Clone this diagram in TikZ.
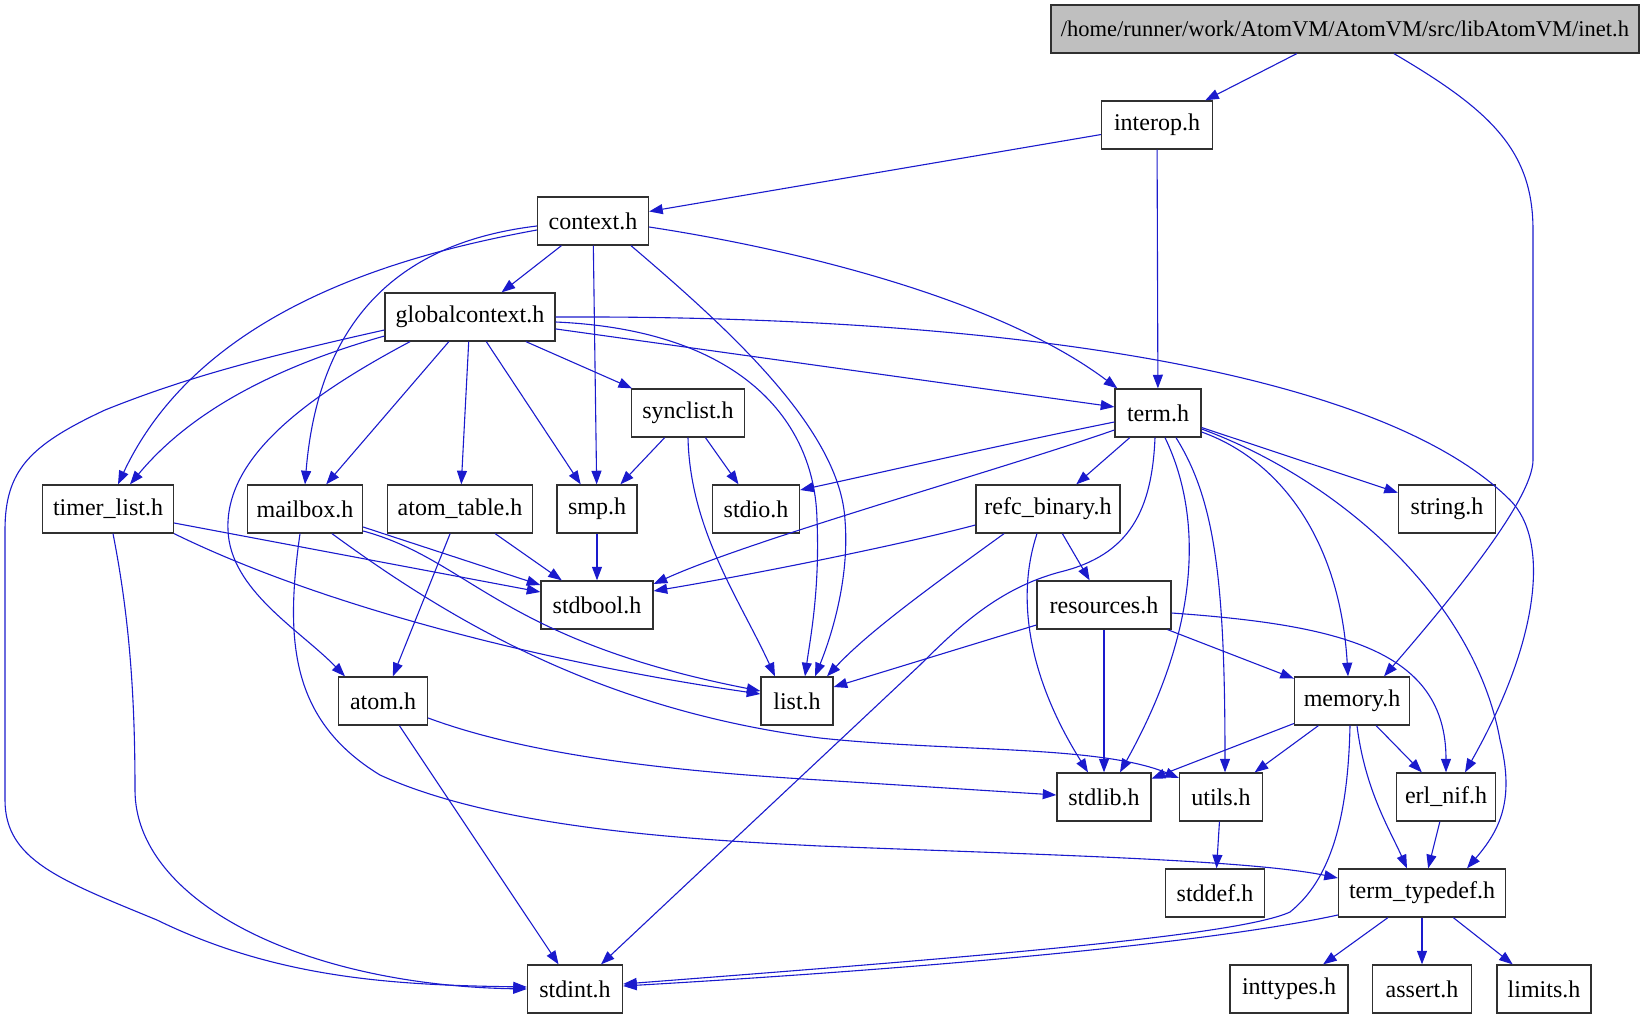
\documentclass[tikz,border=0pt]{standalone}
\usepackage{fontspec}
\setmainfont{Liberation Serif}
\usetikzlibrary{arrows.meta,calc}
\definecolor{edgeblue}{HTML}{1A1ACD}
\definecolor{boxline}{HTML}{303030}
\definecolor{rootfill}{HTML}{BFBFBF}
\begin{document}
\begin{tikzpicture}[x=0.5pt,y=-0.5pt,
  fbox/.style={draw=boxline, line width=0.65pt, fill=white, minimum height=24pt, inner sep=0pt, font=\fontsize{12}{14}\selectfont},
  e/.style={draw=edgeblue, line width=0.55pt, -{Triangle[length=6.8pt,width=5pt]}}]
\useasboundingbox (0,0) rectangle (1645,1019);
% nodes
\node[fbox, fill=rootfill, minimum width=294pt, font=\fontsize{11.25}{14}\selectfont] (inet) at (1345,29) {/home/runner/work/AtomVM/AtomVM/src/libAtomVM/inet.h};
\node[fbox, minimum width=55.5pt] (interop) at (1157,125) {interop.h};
\node[fbox, minimum width=55.5pt] (ctx) at (593,221) {context.h};
\node[fbox, minimum width=85pt] (gc) at (470,317) {globalcontext.h};
\node[fbox, minimum width=43pt] (term) at (1158,413) {term.h};
\node[fbox, minimum width=56.5pt] (sync) at (688,413) {synclist.h};
\node[fbox, minimum width=65.5pt] (tl) at (108,509) {timer\_list.h};
\node[fbox, minimum width=57.5pt] (mb) at (305,509) {mailbox.h};
\node[fbox, minimum width=72.5pt] (atab) at (460,509) {atom\_table.h};
\node[fbox, minimum width=40pt] (smp) at (597,509) {smp.h};
\node[fbox, minimum width=43.5pt] (stdio) at (756,509) {stdio.h};
\node[fbox, minimum width=72pt] (refc) at (1048,509) {refc\_binary.h};
\node[fbox, minimum width=48.5pt] (string) at (1447,509) {string.h};
\node[fbox, minimum width=56pt] (stdbool) at (597,605) {stdbool.h};
\node[fbox, minimum width=67pt] (res) at (1104,605) {resources.h};
\node[fbox, minimum width=44.5pt] (atom) at (383,701) {atom.h};
\node[fbox, minimum width=36pt] (list) at (797,701) {list.h};
\node[fbox, minimum width=57.5pt] (mem) at (1352,701) {memory.h};
\node[fbox, minimum width=47pt] (stdlib) at (1104,797) {stdlib.h};
\node[fbox, minimum width=41.5pt] (utils) at (1221,797) {utils.h};
\node[fbox, minimum width=49.5pt] (erl) at (1446,797) {erl\_nif.h};
\node[fbox, minimum width=49.5pt] (stddef) at (1215,893) {stddef.h};
\node[fbox, minimum width=83.5pt] (tt) at (1422,893) {term\_typedef.h};
\node[fbox, minimum width=47.5pt] (stdint) at (575,989) {stdint.h};
\node[fbox, minimum width=59pt] (inttypes) at (1289,989) {inttypes.h};
\node[fbox, minimum width=49.5pt] (assert) at (1422,989) {assert.h};
\node[fbox, minimum width=47pt] (limits) at (1544,989) {limits.h};
% inet
\draw[e] (inet) -- (interop);
\draw[e] ($(inet.south)+(49,0)$) .. controls (1490,110) and (1533,150) .. (1533,230) -- (1533,460) .. controls (1533,500) and (1450,600) .. ($(mem.north)+(32,0)$);
% interop
\draw[e] (interop) -- (ctx);
\draw[e] (interop) -- (term);
% context
\draw[e] (ctx) -- (gc);
\draw[e] ($(ctx.east)+(0,6)$) .. controls (800,250) and (1000,300) .. ($(term.north west)+(3,0)$);
\draw[e] (ctx) -- (smp);
\draw[e] ($(ctx.south)+(38,0)$) .. controls (730,330) and (840,430) .. (845,520) .. controls (850,580) and (830,640) .. ($(list.north)+(18,0)$);
\draw[e] ($(ctx.west)+(0,9)$) .. controls (400,255) and (200,310) .. ($(tl.north)+(10,0)$);
\draw[e] ($(ctx.west)+(0,5)$) .. controls (420,240) and (320,300) .. (mb.north);
% globalcontext
\draw[e] (gc) -- (term);
\draw[e] (gc.east) .. controls (1000,315) and (1380,370) .. (1510,500) .. controls (1550,540) and (1540,640) .. ($(erl.north)+(19,0)$);
\draw[e] ($(gc.east)+(0,5)$) .. controls (740,330) and (815,420) .. (817,520) .. controls (820,590) and (810,640) .. ($(list.north)+(8,0)$);
\draw[e] (gc) -- (sync);
\draw[e] (gc) -- (smp);
\draw[e] (gc) -- (atab);
\draw[e] (gc) -- (mb);
\draw[e] ($(gc.west)+(0,19)$) .. controls (300,360) and (200,400) .. ($(tl.north)+(22,0)$);
\draw[e] ($(gc.west)+(0,13)$) .. controls (250,360) and (180,380) .. (105,410) .. controls (30,445) and (5,470) .. (5,530) -- (5,800) .. controls (5,860) and (60,880) .. (157,920) .. controls (280,980) and (400,985) .. ($(stdint.west)+(0,-2)$);
\draw[e] ($(gc.south)+(-60,0)$) .. controls (300,400) and (225,460) .. (228,530) .. controls (230,590) and (300,630) .. ($(atom.north)+(-38,0)$);
% synclist
\draw[e] (sync) -- (smp);
\draw[e] (sync) -- (stdio);
\draw[e] (sync.south) .. controls (690,530) and (740,600) .. ($(list.north)+(-22,0)$);
% term
\draw[e] ($(term.west)+(0,9)$) .. controls (1000,445) and (870,475) .. ($(stdio.east)+(0,-19)$);
\draw[e] ($(term.west)+(0,17)$) .. controls (1000,470) and (750,540) .. ($(stdbool.east)+(0,-21)$);
\draw[e] (term) -- (refc);
\draw[e] (term) -- (string);
\draw[e] ($(term.south)+(-3,0)$) .. controls (1152,510) and (1130,555) .. (1060,572) .. controls (1000,588) and (960,625) .. (920,665) -- ($(stdint.north)+(26,0)$);
\draw[e] ($(term.south)+(7,0)$) .. controls (1200,510) and (1205,620) .. ($(stdlib.north)+(16,0)$);
\draw[e] ($(term.south)+(18,0)$) .. controls (1215,500) and (1225,580) .. ($(utils.north)+(4,0)$);
\draw[e] ($(term.east)+(0,19)$) .. controls (1280,460) and (1340,540) .. ($(mem.north)+(-4,0)$);
\draw[e] ($(term.east)+(0,16)$) .. controls (1340,480) and (1475,600) .. (1500,740) .. controls (1515,800) and (1500,830) .. ($(tt.north)+(45,0)$);
% refc_binary
\draw[e] ($(refc.west)+(0,16)$) .. controls (900,545) and (750,575) .. ($(stdbool.east)+(0,-14)$);
\draw[e] ($(refc.south)+(-44,0)$) .. controls (940,580) and (870,630) .. ($(list.north)+(30,0)$);
\draw[e] ($(refc.south)+(-11,0)$) .. controls (1015,600) and (1030,680) .. ($(stdlib.north)+(-16,0)$);
\draw[e] (refc) -- (res);
% resources
\draw[e] ($(res.west)+(0,20)$) -- ($(list.east)+(0,-14)$);
\draw[e] (res) -- (stdlib);
\draw[e] (res) -- (mem);
\draw[e] ($(res.east)+(0,8)$) .. controls (1340,625) and (1446,650) .. (erl.north);
% memory
\draw[e] (mem) -- (stdlib);
\draw[e] (mem) -- (utils);
\draw[e] (mem) -- (erl);
\draw[e] ($(mem.south)+(5,0)$) .. controls (1365,790) and (1390,830) .. ($(tt.north)+(-15,0)$);
\draw[e] ($(mem.south)+(-2,0)$) .. controls (1348,820) and (1330,880) .. (1290,912) .. controls (1240,935) and (1000,955) .. ($(stdint.east)+(0,-5)$);
% erl_nif, utils, term_typedef
\draw[e] (erl) -- (tt);
\draw[e] (utils) -- (stddef);
\draw[e] ($(tt.west)+(0,22)$) .. controls (1200,945) and (900,970) .. ($(stdint.east)+(0,-3)$);
\draw[e] (tt) -- (inttypes);
\draw[e] (tt) -- (assert);
\draw[e] (tt) -- (limits);
% timer_list
\draw[e] ($(tl.east)+(0,14)$) -- ($(stdbool.west)+(0,-13)$);
\draw[e] (tl.south east) .. controls (330,610) and (560,665) .. ($(list.west)+(0,-7)$);
\draw[e] ($(tl.south)+(5,0)$) .. controls (130,620) and (135,700) .. (135,790) .. controls (135,900) and (300,985) .. (stdint.west);
% mailbox
\draw[e] ($(mb.east)+(0,18)$) -- ($(stdbool.west)+(0,-20)$);
\draw[e] ($(mb.east)+(0,22)$) .. controls (470,560) and (500,640) .. ($(list.west)+(0,-10)$);
\draw[e] ($(mb.south)+(27,0)$) .. controls (450,620) and (600,710) .. (820,738) .. controls (950,752) and (1100,745) .. ($(utils.west)+(0,-19)$);
\draw[e] ($(mb.south)+(-5,0)$) .. controls (285,640) and (290,720) .. (380,775) .. controls (500,830) and (700,840) .. (820,846) .. controls (1050,855) and (1250,860) .. ($(tt.west)+(0,-15)$);
% atom_table, smp, atom
\draw[e] (atab) -- (stdbool);
\draw[e] (atab) -- (atom);
\draw[e] (smp) -- (stdbool);
\draw[e] (atom) -- (stdint);
\draw[e] ($(atom.east)+(0,17)$) .. controls (520,752) and (650,770) .. (820,780) -- ($(stdlib.west)+(0,-2)$);
\end{tikzpicture}
\end{document}
